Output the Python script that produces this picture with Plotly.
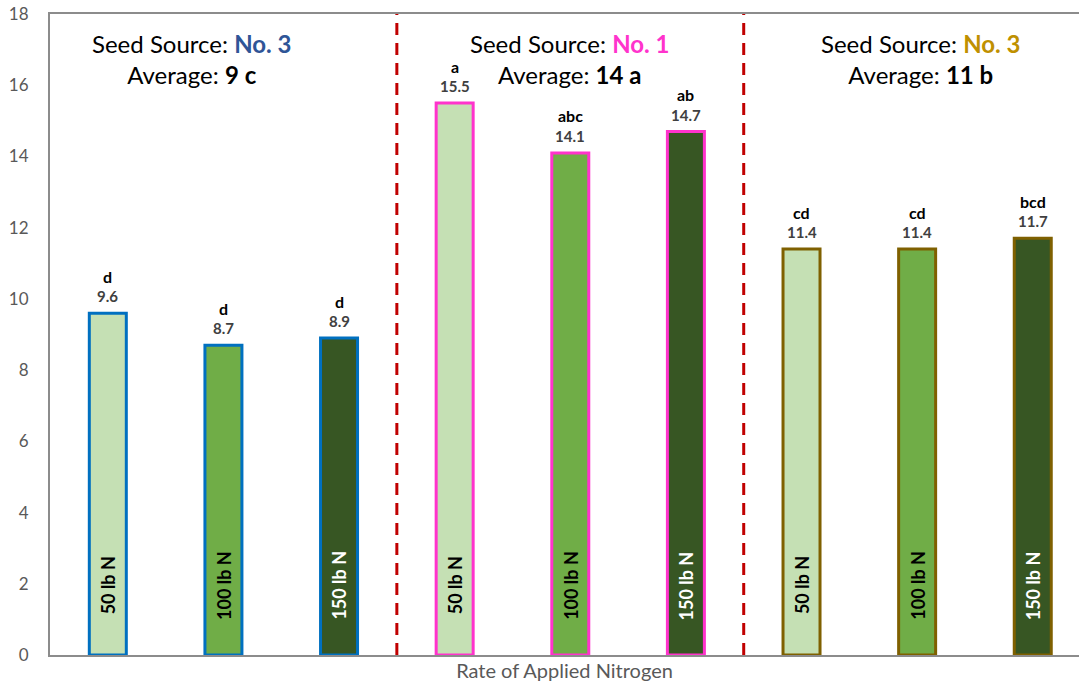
import plotly.graph_objects as go

categories = ["50 lb N", "100 lb N", "150 lb N"] * 3
values = [9.6, 8.7, 8.9, 15.5, 14.1, 14.7, 11.4, 11.4, 11.7]
letters = ["d", "d", "d", "a", "abc", "ab", "cd", "cd", "bcd"]
group_sources = ["No. 3", "No. 1", "No. 3"]
group_averages = ["9 c", "14 a", "11 b"]
y_ticks = list(range(0, 19, 2))

fills = ["#C5E0B4", "#70AD47", "#375623"]
borders = ["#0070C0", "#FF33CC", "#7F6000"]
source_colors = ["#2F5597", "#FF33CC", "#BF9000"]
inner_text_colors = ["black", "black", "white"]
header_x = [0.73, 4.0, 7.03]
FONT = "Lato, Open Sans, sans-serif"

xs = list(range(len(values)))
fig = go.Figure()
fig.add_trace(go.Bar(
    x=xs, y=values, width=0.32,
    marker=dict(color=[fills[i % 3] for i in xs],
                line=dict(color=[borders[i // 3] for i in xs], width=3)),
    hoverinfo="skip",
))

for i, v in enumerate(values):
    fig.add_annotation(x=i, y=v, text=f"<b>{v}</b>", showarrow=False,
                       yanchor="middle", yshift=17,
                       font=dict(family=FONT, size=15, color="#404040"))
    fig.add_annotation(x=i, y=v, text=f"<b>{letters[i]}</b>", showarrow=False,
                       yanchor="middle", yshift=37,
                       font=dict(family=FONT, size=16, color="black"))
    fig.add_annotation(x=i, y=1.95, text=f"<b>{categories[i]}</b>", showarrow=False,
                       textangle=-90,
                       font=dict(family=FONT, size=18, color=inner_text_colors[i % 3]))

for g in range(3):
    fig.add_annotation(
        x=header_x[g], y=0.98, yref="paper", showarrow=False, yanchor="top",
        text=(f"Seed Source: <b><span style='color:{source_colors[g]}'>{group_sources[g]}</span></b>"
              f"<br>Average: <b>{group_averages[g]}</b>"),
        font=dict(family=FONT, size=24, color="black"),
    )

for xd in [2.5, 5.5]:
    fig.add_shape(type="line", x0=xd, x1=xd, y0=0, y1=1, yref="paper",
                  line=dict(color="#C00000", width=3, dash="12px,8px"))

fig.update_layout(
    width=1079, height=684,
    margin=dict(l=50, r=0, t=14, b=29),
    plot_bgcolor="white", paper_bgcolor="white",
    showlegend=False,
    font=dict(family=FONT),
    xaxis=dict(range=[-0.5, 8.4], showticklabels=False, ticks="",
               showgrid=False, zeroline=False,
               showline=True, linecolor="#8C8C8C", linewidth=2, mirror=True,
               title=dict(text="Rate of Applied Nitrogen", standoff=8,
                          font=dict(family=FONT, size=20, color="#595959"))),
    yaxis=dict(range=[0, 18], tickvals=y_ticks, showgrid=False, zeroline=False,
               showline=True, linecolor="#8C8C8C", linewidth=2,
               ticks="", ticklabelstandoff=16,
               tickfont=dict(family=FONT, size=17, color="#595959")),
)

fig.write_html("out.html")
